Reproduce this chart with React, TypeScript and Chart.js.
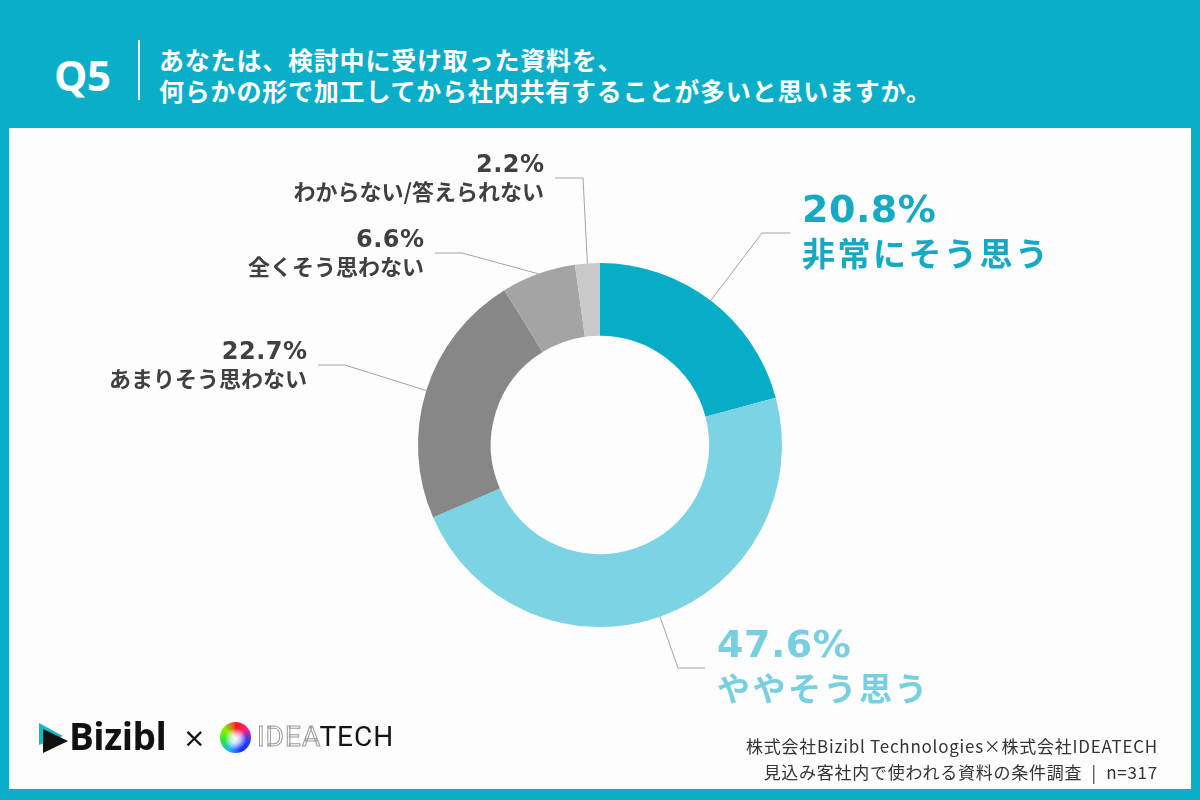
import React, { useEffect, useRef } from "react";
import { Chart, registerables } from "chart.js";

Chart.register(...registerables);

// Survey answers (share of respondents, %)
const categories = ["非常にそう思う", "ややそう思う", "あまりそう思わない", "全くそう思わない", "わからない/答えられない"];
const shares = [20.8, 47.6, 22.7, 6.6, 2.2];
const sliceColors = ["#06adc6", "#7bd3e3", "#878787", "#a4a4a4", "#c9c9c9"];

// Leader line layout per slice, relative to the doughnut centre
const calloutElbow: [number, number][] = [
  [162, -212],
  [78, 223],
  [-255, -80],
  [-138, -192],
  [-17, -267],
];
const calloutEnd: [number, number][] = [
  [190, -212],
  [105, 223],
  [-282, -80],
  [-165, -192],
  [-45, -267],
];
const calloutSide = ["left", "left", "right", "right", "right"];
const calloutLarge = [true, true, false, false, false];
const calloutTextColor = ["#15a9c3", "#78cfe0", "#404040", "#404040", "#404040"];

const calloutPlugin = {
  id: "callouts",
  afterDatasetsDraw(chart: any) {
    const ctx = chart.ctx as CanvasRenderingContext2D;
    const meta = chart.getDatasetMeta(0);
    meta.data.forEach((arc: any, i: number) => {
      const { x, y, startAngle, endAngle, outerRadius } = arc.getProps(
        ["x", "y", "startAngle", "endAngle", "outerRadius"],
        true
      );
      const mid = (startAngle + endAngle) / 2;
      const ax = x + Math.cos(mid) * outerRadius;
      const ay = y + Math.sin(mid) * outerRadius;
      const ex = x + calloutElbow[i][0];
      const ey = y + calloutElbow[i][1];
      const tx = x + calloutEnd[i][0];
      const ty = y + calloutEnd[i][1];

      ctx.save();
      ctx.strokeStyle = "#a3a3a3";
      ctx.lineWidth = 1;
      ctx.beginPath();
      ctx.moveTo(ax, ay);
      ctx.lineTo(ex, ey);
      ctx.lineTo(tx, ty);
      ctx.stroke();

      const large = calloutLarge[i];
      const left = calloutSide[i] === "left";
      const pctSpacing = 0.5;
      const nameSpacing = large ? 2.5 : 0;
      const textX = left ? tx + 12 : tx - 11;
      ctx.fillStyle = calloutTextColor[i];
      ctx.textBaseline = "middle";
      ctx.textAlign = left ? "left" : "right";

      const pct = shares[i].toFixed(1) + "%";
      ctx.font = `bold ${large ? 38 : 24}px "DejaVu Sans", "Noto Sans CJK JP", sans-serif`;
      (ctx as any).letterSpacing = pctSpacing + "px";
      ctx.fillText(pct, left ? textX : textX + pctSpacing, ty + (large ? -21 : -12));

      ctx.font = `bold ${large ? 33 : 22}px "Noto Sans CJK JP", sans-serif`;
      (ctx as any).letterSpacing = nameSpacing + "px";
      ctx.fillText(categories[i], left ? textX : textX + nameSpacing, ty + (large ? 20 : 14));
      ctx.restore();
    });
  },
};

function DonutChart() {
  const canvasRef = useRef<HTMLCanvasElement | null>(null);

  useEffect(() => {
    const canvas = canvasRef.current;
    if (!canvas) return;
    const chart = new Chart(canvas, {
      type: "doughnut",
      data: {
        labels: categories,
        datasets: [
          {
            data: shares,
            backgroundColor: sliceColors,
            borderWidth: 0,
            hoverOffset: 0,
          },
        ],
      },
      options: {
        responsive: false,
        animation: false,
        devicePixelRatio: 1,
        cutout: "60%",
        layout: { padding: { top: 263, bottom: 173, left: 418, right: 418 } },
        plugins: {
          legend: { display: false },
          tooltip: { enabled: false },
        },
      },
      plugins: [calloutPlugin],
    });
    return () => chart.destroy();
  }, []);

  return (
    <canvas
      ref={canvasRef}
      width={1200}
      height={800}
      style={{ position: "absolute", left: 0, top: 0, width: 1200, height: 800 }}
    />
  );
}

const jp = '"Noto Sans CJK JP", sans-serif';

export default function App() {
  return (
    <div
      style={{
        position: "fixed",
        left: 0,
        top: 0,
        width: 1200,
        height: 800,
        background: "#0aaec8",
        overflow: "hidden",
        fontFamily: jp,
      }}
    >
      {/* header */}
      <div
        style={{
          position: "absolute",
          left: 54,
          top: 49,
          fontSize: 42,
          fontWeight: 700,
          color: "#fff",
          fontFamily: '"Open Sans", "DejaVu Sans", sans-serif',
          lineHeight: "52px",
          letterSpacing: -0.5,
        }}
      >
        Q5
      </div>
      <div style={{ position: "absolute", left: 138, top: 40, width: 1.5, height: 60, background: "#e8f7fa" }} />
      <div
        style={{
          position: "absolute",
          left: 159,
          top: 44,
          color: "#fff",
          fontWeight: 700,
          fontSize: 25,
          lineHeight: "31px",
          letterSpacing: 0.8,
          whiteSpace: "nowrap",
        }}
      >
        <div>あなたは、検討中に受け取った資料を、</div>
        <div>何らかの形で加工してから社内共有することが多いと思いますか。</div>
      </div>

      {/* white panel */}
      <div style={{ position: "absolute", left: 9, top: 128, width: 1182, height: 661, background: "#fdfdfd" }} />

      <DonutChart />

      {/* logos */}
      <svg width={34} height={34} viewBox="0 0 34 34" style={{ position: "absolute", left: 37, top: 721 }}>
        <polygon points="2,2 26,15 2,24" fill="#19b5c9" />
        <polygon points="6,8 31,20 6,32" fill="#111" />
      </svg>
      <div
        style={{
          position: "absolute",
          left: 69,
          top: 712,
          fontFamily: '"Open Sans", "Noto Sans", sans-serif',
          fontWeight: 700,
          fontSize: 37,
          letterSpacing: -0.5,
          color: "#111",
          lineHeight: "48px",
        }}
      >
        Bizibl
      </div>
      <div
        style={{
          position: "absolute",
          left: 183,
          top: 718,
          fontFamily: '"DejaVu Sans", sans-serif',
          fontSize: 27,
          color: "#111",
          lineHeight: "40px",
        }}
      >
        ×
      </div>
      <div
        style={{
          position: "absolute",
          left: 220,
          top: 722,
          width: 31,
          height: 31,
          borderRadius: "50%",
          background:
            "radial-gradient(circle at 50% 55%, #ffffff 0%, rgba(255,255,255,0.7) 22%, rgba(255,255,255,0) 48%), conic-gradient(from 0deg, #ff1a1a, #ff2080, #2a3cff, #1a2cff, #22b4ff, #2ee82e, #8ef000, #ff3030)",
        }}
      />
      <div
        style={{
          position: "absolute",
          left: 257,
          top: 717,
          fontFamily: 'Roboto, "Noto Sans", sans-serif',
          fontSize: 28,
          letterSpacing: 1,
          lineHeight: "40px",
          whiteSpace: "nowrap",
        }}
      >
        <span style={{ color: "#fff", WebkitTextStroke: "1px #9a9a9a" }}>IDEA</span>
        <span style={{ color: "#151515" }}>TECH</span>
      </div>

      {/* source note */}
      <div
        style={{
          position: "absolute",
          right: 42,
          top: 733,
          textAlign: "right",
          fontSize: 17,
          lineHeight: "26px",
          letterSpacing: 0.75,
          color: "#333",
          whiteSpace: "nowrap",
        }}
      >
        <div>株式会社Bizibl Technologies×株式会社IDEATECH</div>
        <div>見込み客社内で使われる資料の条件調査{"\u2002|\u2002"}n=317</div>
      </div>
    </div>
  );
}
